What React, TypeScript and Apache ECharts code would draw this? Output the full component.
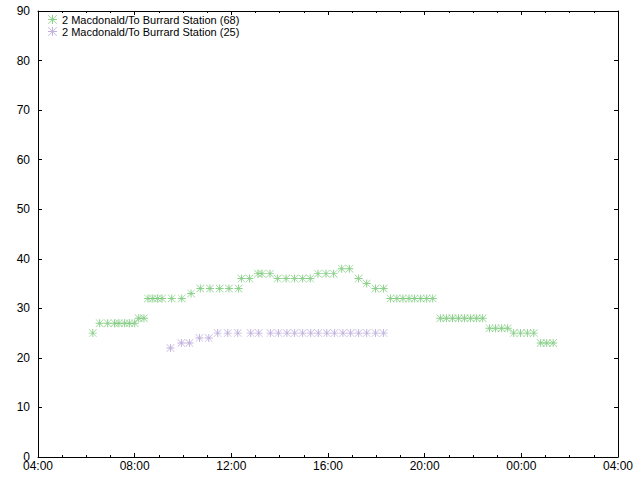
import React, { useEffect, useRef } from "react";
import * as echarts from "echarts";

const series68Name = "2 Macdonald/To Burrard Station (68)";
const series25Name = "2 Macdonald/To Burrard Station (25)";

const times68 = [
  "06:16", "06:33", "06:53", "07:10", "07:21", "07:35", "07:47", "08:00", "08:10", "08:23",
  "08:33", "08:45", "08:57", "09:08", "09:32", "09:57", "10:20", "10:43", "11:07", "11:31",
  "11:54", "12:18", "12:25", "12:45", "13:06", "13:16", "13:36", "13:55", "14:16", "14:37",
  "14:57", "15:16", "15:35", "15:55", "16:14", "16:34", "16:53", "17:16", "17:36", "17:58",
  "18:18", "18:35", "18:51", "19:06", "19:21", "19:35", "19:50", "20:05", "20:20", "20:39",
  "20:54", "21:09", "21:24", "21:39", "21:54", "22:09", "22:24", "22:41", "22:56", "23:11",
  "23:26", "23:41", "23:58", "00:15", "00:31", "00:48", "01:03", "01:19",
];
const values68 = [
  25, 27, 27, 27, 27, 27, 27, 27, 28, 28,
  32, 32, 32, 32, 32, 32, 33, 34, 34, 34,
  34, 34, 36, 36, 37, 37, 37, 36, 36, 36,
  36, 36, 37, 37, 37, 38, 38, 36, 35, 34,
  34, 32, 32, 32, 32, 32, 32, 32, 32, 28,
  28, 28, 28, 28, 28, 28, 28, 26, 26, 26,
  26, 25, 25, 25, 25, 23, 23, 23,
];

const times25 = [
  "09:29", "09:56", "10:16", "10:41", "11:04", "11:26", "11:51", "12:16", "12:48", "13:08",
  "13:37", "13:57", "14:18", "14:37", "14:57", "15:17", "15:36", "15:57", "16:16", "16:37",
  "16:56", "17:16", "17:36", "17:58", "18:18",
];
const values25 = [
  22, 23, 23, 24, 24, 25, 25, 25, 25, 25,
  25, 25, 25, 25, 25, 25, 25, 25, 25, 25,
  25, 25, 25, 25, 25,
];

const xTickLabels = ["04:00", "08:00", "12:00", "16:00", "20:00", "00:00", "04:00"];

const toMinutes = (s: string) => {
  const [h, m] = s.split(":").map(Number);
  const hh = h < 4 ? h + 24 : h;
  return hh * 60 + m;
};

const STAR =
  "path://M0 4.4 L10 4.4 L10 5.6 L0 5.6 Z M4.4 0 L5.6 0 L5.6 10 L4.4 10 Z M0 0.5 L0.5 0 L10 9.5 L9.5 10 Z M9.5 0 L10 0.5 L0.5 10 L0 9.5 Z";

const GREEN = "#6fc46f";
const PURPLE = "#b39fd6";

export default function App() {
  const ref = useRef<HTMLDivElement>(null);
  useEffect(() => {
    if (!ref.current) return;
    const chart = echarts.init(ref.current, undefined, { renderer: "svg" });
    const fmt = (v: number) => {
      const idx = Math.round((v - 240) / 240);
      return xTickLabels[idx] ?? "";
    };
    const font = "Liberation Sans";
    const axisCommonX = {
      type: "value" as const,
      min: 240,
      max: 1680,
      interval: 240,
      axisLine: { show: true, onZero: false, lineStyle: { color: "#000", width: 1 } },
      axisTick: { show: true, inside: true, length: 4, lineStyle: { color: "#000" } },
      minorTick: { show: true, splitNumber: 4, length: 2, lineStyle: { color: "#000" } },
      splitLine: { show: false },
    };
    const axisCommonY = {
      type: "value" as const,
      min: 0,
      max: 90,
      interval: 10,
      axisLine: { show: true, onZero: false, lineStyle: { color: "#000", width: 1 } },
      axisTick: { show: true, inside: true, length: 4, lineStyle: { color: "#000" } },
      splitLine: { show: false },
    };
    const legendCommon = {
      orient: "vertical" as const,
      left: 48,
      itemWidth: 9,
      itemHeight: 9,
      itemGap: 0,
      padding: 0,
      textStyle: { fontFamily: font, fontSize: 11, color: "#000" },
    };
    chart.setOption({
      animation: false,
      backgroundColor: "#fff",
      grid: { left: 38, right: 22, top: 11, bottom: 23, containLabel: false },
      legend: [
        { ...legendCommon, top: 14, data: [series68Name] },
        { ...legendCommon, top: 26, data: [series25Name] },
      ],
      xAxis: [
        {
          ...axisCommonX,
          position: "bottom",
          axisLabel: {
            show: true,
            formatter: fmt,
            margin: 3,
            fontFamily: font,
            fontSize: 12,
            color: "#000",
          },
        },
        {
          ...axisCommonX,
          position: "top",
          axisLabel: { show: false },
        },
      ],
      yAxis: [
        {
          ...axisCommonY,
          position: "left",
          axisLabel: { show: true, margin: 8, fontFamily: font, fontSize: 12, color: "#000" },
        },
        {
          ...axisCommonY,
          position: "right",
          axisLabel: { show: false },
        },
      ],
      series: [
        {
          name: series68Name,
          type: "scatter",
          symbol: STAR,
          symbolSize: 8,
          itemStyle: { color: GREEN },
          data: times68.map((t, i) => [toMinutes(t), values68[i]]),
        },
        {
          name: series25Name,
          type: "scatter",
          symbol: STAR,
          symbolSize: 8,
          itemStyle: { color: PURPLE },
          data: times25.map((t, i) => [toMinutes(t), values25[i]]),
        },
      ],
    });
    return () => chart.dispose();
  }, []);
  return (
    <div
      ref={ref}
      style={{ position: "absolute", left: 0, top: 0, width: 640, height: 480 }}
    />
  );
}
